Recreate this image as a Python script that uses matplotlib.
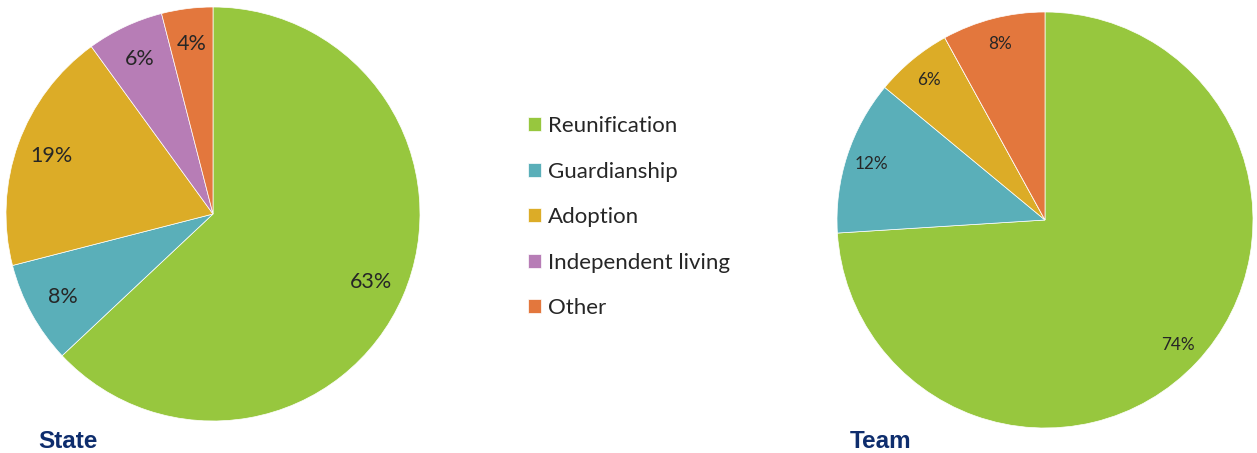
import matplotlib
matplotlib.use('Agg')
import matplotlib.pyplot as plt

categories = ['Reunification', 'Guardianship', 'Adoption', 'Independent living', 'Other']
state_values = [63, 8, 19, 6, 4]
team_values = [74, 12, 6, 0, 8]
colors = ['#97C73E', '#5AAFB9', '#DCAC27', '#B77DB6', '#E3773D']

W, H = 1257, 453
fig = plt.figure(figsize=(W / 100, H / 100), dpi=100)


def draw_pie(values, cx, cy, r, fs, pdist):
    ax = fig.add_axes([(cx - r) / W, (H - cy - r) / H, 2 * r / W, 2 * r / H])
    labels = [f'{v}%' if v > 0 else '' for v in values]
    wedges, _ = ax.pie(values, colors=colors, startangle=90, counterclock=False,
                       labels=labels, labeldistance=pdist, radius=1,
                       wedgeprops=dict(edgecolor='white', linewidth=0.5),
                       textprops=dict(fontsize=fs, color='#262626', family='Lato',
                                      ha='center', va='center'))
    ax.set_xlim(-1, 1)
    ax.set_ylim(-1, 1)
    ax.set_aspect('equal')
    ax.axis('off')
    return wedges


wedges = draw_pie(state_values, 213, 214, 207, 15.5, 0.83)
draw_pie(team_values, 1045, 220, 208, 12.3, 0.875)

fig.legend(wedges, categories, loc='upper left', bbox_to_anchor=(508 / W, 1 - 96 / H),
           frameon=False, prop=dict(family='Lato', size=16), handlelength=0.6,
           handleheight=0.6, handletextpad=0.3, labelspacing=1.15,
           labelcolor='#262626')

fig.text(38 / W, 1 - 441 / H, 'State', fontsize=17.5, fontweight='bold', color='#0E2D6D',
         family='Liberation Sans', va='center', ha='left')
fig.text(850 / W, 1 - 441 / H, 'Team', fontsize=17.5, fontweight='bold', color='#0E2D6D',
         family='Liberation Sans', va='center', ha='left')

fig.savefig('out.png', dpi=100)
